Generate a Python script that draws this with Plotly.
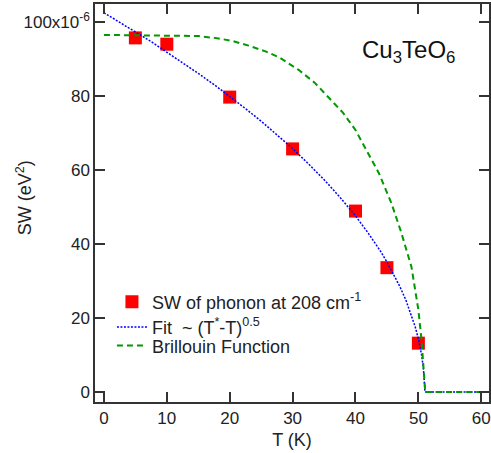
import plotly.graph_objects as go

# Data (SW in units of 1e-6 eV^2)
T_data = [5, 10, 20, 30, 40, 45, 50]
SW_data = [95.7, 94.0, 79.7, 65.7, 48.9, 33.6, 13.2]

T_fit = [0, 2.5, 5, 7.5, 10, 12.5, 15, 17.5, 20, 22.5, 25, 27.5, 30, 32.5, 35, 37.5, 40, 42, 44, 45, 46,
         47, 48, 49, 49.5, 50, 50.5, 50.8, 50.95, 51.05, 60]
SW_fit = [102.5, 100.0, 97.3, 94.7, 91.9, 89.0, 86.1, 83.1, 79.9, 76.6, 73.2, 69.6, 65.8, 61.7, 57.4, 52.7, 47.6,
          43.0, 38.0, 35.1, 32.1, 28.7, 24.9, 20.3, 17.6, 14.4, 10.1, 6.4, 3.2, 0.0, 0.0]

T_bri = [0, 10, 15, 18, 20.4, 23, 25.8, 28, 31, 33.5, 36.2, 38, 40, 42, 43.7, 45.7, 47.3, 48.9, 50.0, 50.5,
         50.9, 51.1, 60]
SW_bri = [96.5, 96.4, 96.2, 95.6, 94.9, 93.6, 92.0, 90.3, 87.0, 83.6, 78.9, 75.5, 70.8, 64.6, 59.2, 51.1, 43.0,
          33.8, 22.2, 14.1, 5.9, 0.0, 0.0]

x_ticks = [0, 10, 20, 30, 40, 50, 60]
y_ticks = [0, 20, 40, 60, 80, 100]
y_ticktext = ["0", "20", "40", "60", "80", "100x10<sup>-6</sup>"]

FONT = "Liberation Sans, Arial, sans-serif"

fig = go.Figure()
fig.add_trace(go.Scatter(
    x=T_data, y=SW_data, mode="markers",
    marker=dict(symbol="square", size=13, color="#ff0000", line=dict(width=0)),
    name="SW of phonon at 208 cm<sup>-1</sup>", legend="legend",
))
fig.add_trace(go.Scatter(
    x=T_fit, y=SW_fit, mode="lines",
    line=dict(color="#0000ff", width=1.5, dash="2px,1.5px"),
    name="Fit  ~ (T<sup>*</sup>-T)<sup>0.5</sup>", legend="legend2",
))
fig.add_trace(go.Scatter(
    x=T_bri, y=SW_bri, mode="lines",
    line=dict(color="#009900", width=2, dash="6px,4px"),
    name="Brillouin Function", legend="legend3",
))

axis_common = dict(
    showline=True, linecolor="#333333", linewidth=1.5, mirror="ticks",
    ticks="inside", ticklen=10, tickwidth=1.5, tickcolor="#333333",
    showgrid=False, zeroline=False,
    tickfont=dict(family=FONT, size=17, color="#222222"),
)

leg_common = dict(xanchor="left", yanchor="middle", bgcolor="rgba(0,0,0,0)",
                  font=dict(family=FONT, size=18, color="#222222"), itemwidth=30)

fig.update_layout(
    width=491, height=453,
    margin=dict(l=95, r=0, t=4, b=51),
    paper_bgcolor="white", plot_bgcolor="white",
    font=dict(family=FONT, size=17, color="#222222"),
    xaxis=dict(range=[-1.42, 61.23], tickvals=x_ticks,
               title=dict(text="T (K)", font=dict(family=FONT, size=18), standoff=6),
               **axis_common),
    yaxis=dict(range=[-2.7, 104.86], tickvals=y_ticks, ticktext=y_ticktext,
               **axis_common),
    legend=dict(x=0.043, y=0.251, **leg_common),
    legend2=dict(x=0.043, y=0.188, **leg_common),
    legend3=dict(x=0.043, y=0.141, **leg_common),
    showlegend=True,
)

fig.add_annotation(
    x=-0.179, y=0.513, xref="paper", yref="paper",
    text="SW (eV<sup>2</sup>)", showarrow=False, textangle=-90,
    font=dict(family=FONT, size=18, color="#222222"),
    xanchor="center", yanchor="middle",
)

fig.add_annotation(
    x=0.795, y=0.88, xref="paper", yref="paper",
    text="Cu<sub>3</sub>TeO<sub>6</sub>", showarrow=False,
    font=dict(family=FONT, size=24, color="#111111"),
    xanchor="center", yanchor="middle",
)

fig.write_html("out.html")
